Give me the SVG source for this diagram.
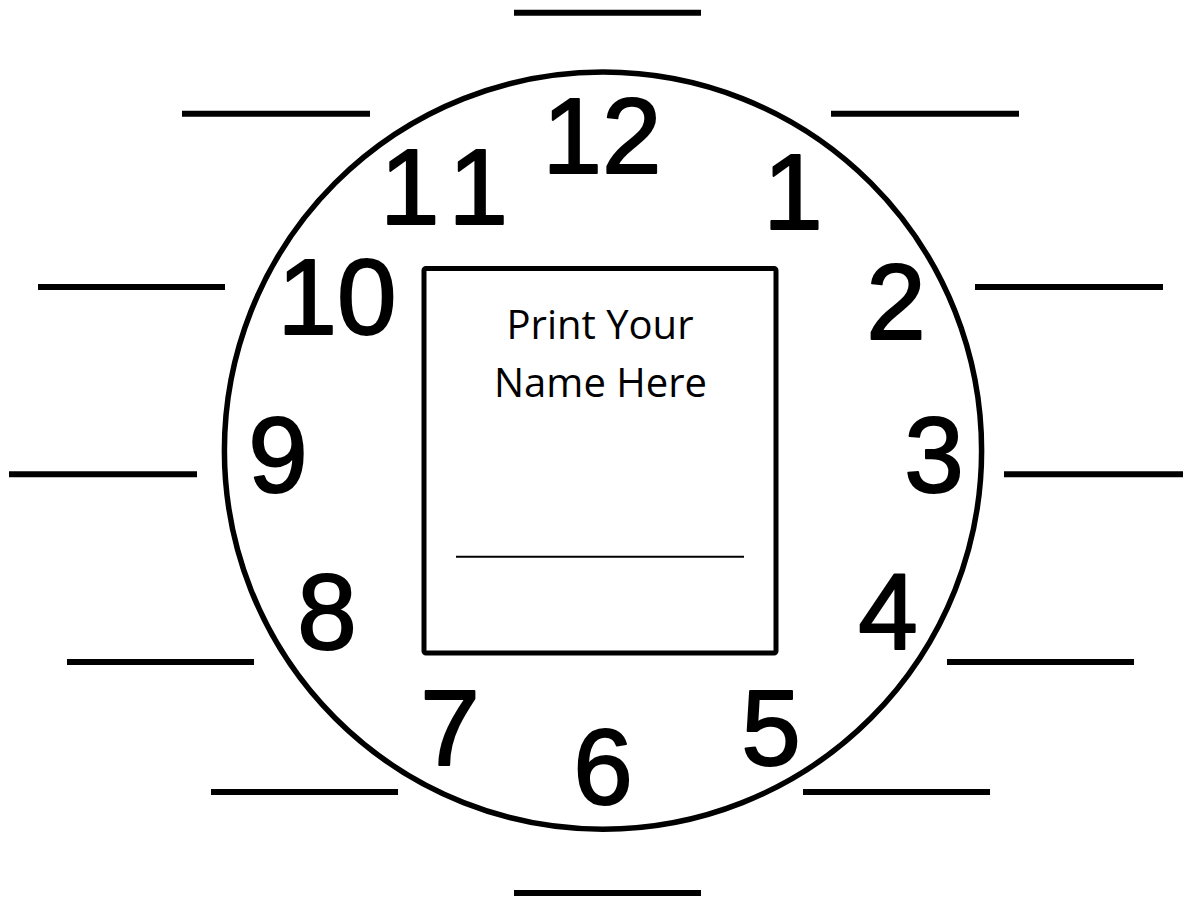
<svg xmlns="http://www.w3.org/2000/svg" width="1183" height="898" viewBox="0 0 1183 898">
  <style>
    .blank { stroke: #000; stroke-width: 6; }
    .num { font-family: "Liberation Sans", Arial, sans-serif; font-size: 107px; fill: #000; stroke: #000; stroke-width: 2; stroke-linejoin: round; text-anchor: middle; }
    .label { font-family: "Open Sans", "Noto Sans", sans-serif; font-size: 40px; fill: #000; text-anchor: middle; }
  </style>
  <rect x="0" y="0" width="1183" height="898" fill="#fff"/>
  <g id="face">
    <circle cx="603" cy="450.6" r="378.6" fill="none" stroke="#000" stroke-width="5.5"/>
  </g>
  <g id="blanks">
    <line class="blank" x1="514" y1="12.8" x2="701" y2="12.8"/>
    <line class="blank" x1="182" y1="113.8" x2="370" y2="113.8"/>
    <line class="blank" x1="831" y1="113.8" x2="1019" y2="113.8"/>
    <line class="blank" x1="38" y1="287" x2="225" y2="287"/>
    <line class="blank" x1="975" y1="287" x2="1163" y2="287"/>
    <line class="blank" x1="9" y1="474.3" x2="197" y2="474.3"/>
    <line class="blank" x1="1004" y1="474.3" x2="1183" y2="474.3"/>
    <line class="blank" x1="67" y1="662" x2="254" y2="662"/>
    <line class="blank" x1="947" y1="662" x2="1134" y2="662"/>
    <line class="blank" x1="211" y1="792" x2="398" y2="792"/>
    <line class="blank" x1="803" y1="792" x2="990" y2="792"/>
    <line class="blank" x1="514" y1="893" x2="701" y2="893"/>
  </g>
  <g id="numbers">
    <text class="num" x="602" y="173">12</text>
    <text class="num" x="444" y="224" textLength="128" lengthAdjust="spacing">11</text>
    <text class="num" x="793" y="229">1</text>
    <text class="num" x="337" y="334">10</text>
    <text class="num" x="278" y="492">9</text>
    <text class="num" x="327" y="649">8</text>
    <text class="num" x="896" y="339">2</text>
    <text class="num" x="934" y="492">3</text>
    <text class="num" x="888" y="649">4</text>
    <text class="num" x="450" y="765">7</text>
    <text class="num" x="603" y="804">6</text>
    <text class="num" x="771" y="765">5</text>
  </g>
  <g id="name-box">
    <rect x="424" y="268.5" width="352" height="384.5" rx="2" fill="none" stroke="#000" stroke-width="5"/>
    <text class="label" x="600" y="339">Print Your</text>
    <text class="label" x="600.5" y="397">Name Here</text>
    <line x1="456" y1="556.7" x2="744" y2="556.7" stroke="#000" stroke-width="2"/>
  </g>
</svg>
